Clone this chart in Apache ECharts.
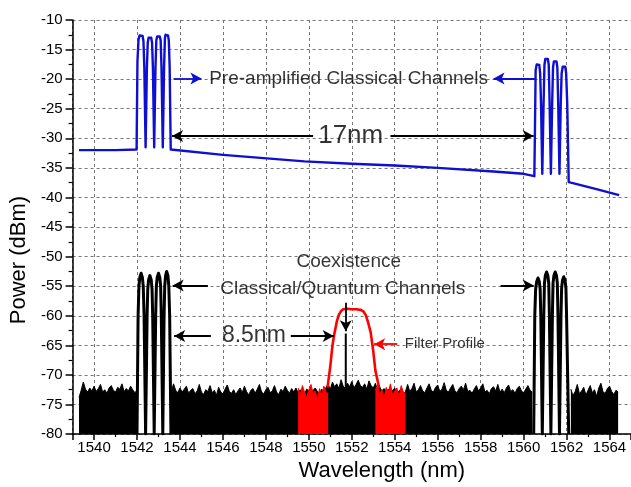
<!DOCTYPE html>
<html>
<head>
<meta charset="utf-8">
<script src="https://cdn.jsdelivr.net/npm/echarts@6/dist/echarts.min.js"></script>
<style>html,body{margin:0;padding:0;background:#fff;}#chart{width:631px;height:487px;}</style>
</head>
<body>
<div id="chart"></div>
<script>
// ---- Data (wavelength nm, power dBm) ----
const xTicks = [1540,1542,1544,1546,1548,1550,1552,1554,1556,1558,1560,1562,1564];
const yTicks = [-80,-75,-70,-65,-60,-55,-50,-45,-40,-35,-30,-25,-20,-15,-10];

// Pre-amplified classical channels (blue trace)
const blueTrace = [
  [1539.3,-32.0],[1541.0,-32.0],[1541.98,-31.9],
  [1542.02,-17.0],[1542.07,-13.3],[1542.12,-12.6],[1542.19,-12.4],[1542.26,-12.7],[1542.3,-13.6],[1542.34,-18],[1542.4,-31.5],
  [1542.46,-18],[1542.5,-13.8],[1542.54,-13.0],[1542.6,-12.8],[1542.66,-13.0],[1542.7,-13.8],[1542.74,-18],[1542.8,-31.5],
  [1542.86,-18],[1542.9,-13.4],[1542.94,-12.8],[1543.0,-12.6],[1543.06,-12.8],[1543.1,-13.4],[1543.14,-18],[1543.2,-31.5],
  [1543.26,-18],[1543.3,-13.0],[1543.33,-12.5],[1543.38,-12.3],[1543.44,-12.6],[1543.48,-13.4],[1543.52,-18],[1543.57,-31.9],
  [1543.66,-31.9],[1546.0,-32.8],[1549.8,-33.9],[1552.0,-34.3],[1554.0,-34.6],[1556.0,-35.0],[1558.6,-35.6],[1560.0,-36.0],[1560.5,-36.4],
  [1560.53,-28],[1560.56,-18.5],[1560.61,-17.5],[1560.67,-17.2],[1560.73,-17.6],[1560.77,-19],[1560.81,-24],[1560.87,-36.0],
  [1560.93,-24],[1560.97,-17.6],[1561.01,-16.6],[1561.07,-16.3],[1561.13,-16.6],[1561.17,-17.6],[1561.21,-24],[1561.27,-36.0],
  [1561.33,-24],[1561.37,-18.0],[1561.41,-17.0],[1561.47,-16.7],[1561.53,-17.0],[1561.57,-18.0],[1561.61,-24],[1561.67,-36.0],
  [1561.73,-24],[1561.77,-19.0],[1561.82,-17.9],[1561.88,-17.6],[1561.94,-17.9],[1561.98,-19.0],[1562.03,-24],[1562.1,-37.4],
  [1562.2,-37.5],[1563.3,-38.5],[1564.45,-39.6]
];

// Coexistence classical channels (black trace)
const blackChannelsLeft = [
  [1542.0,-80],[1542.05,-60],[1542.09,-55],[1542.13,-53.5],[1542.19,-52.8],[1542.25,-53.5],[1542.29,-55],[1542.33,-60],[1542.4,-80],
  [1542.47,-60],[1542.5,-55.5],[1542.54,-53.9],[1542.6,-53.2],[1542.66,-53.9],[1542.7,-55.5],[1542.73,-60],[1542.8,-80],
  [1542.87,-60],[1542.9,-55],[1542.94,-53.5],[1543.0,-52.8],[1543.06,-53.5],[1543.1,-55],[1543.13,-60],[1543.2,-80],
  [1543.26,-60],[1543.29,-55],[1543.33,-53.2],[1543.38,-52.5],[1543.44,-53.2],[1543.48,-55],[1543.52,-60],[1543.58,-80]
];
const blackChannelsRight = [
  [1560.47,-80],[1560.52,-60],[1560.56,-55.5],[1560.61,-54.2],[1560.67,-53.6],[1560.73,-54.2],[1560.77,-55.5],[1560.8,-60],[1560.87,-80],
  [1560.94,-60],[1560.97,-54.5],[1561.01,-53.2],[1561.07,-52.6],[1561.13,-53.2],[1561.17,-54.5],[1561.2,-60],[1561.27,-80],
  [1561.34,-60],[1561.37,-54.5],[1561.41,-53.2],[1561.47,-52.6],[1561.53,-53.2],[1561.57,-54.5],[1561.6,-60],[1561.67,-80],
  [1561.74,-60],[1561.77,-55.3],[1561.81,-54],[1561.87,-53.4],[1561.93,-54],[1561.97,-55.3],[1562.0,-60],[1562.1,-80]
];

// Quantum channel spike
const quantumSpike = [[1551.72,-80],[1551.72,-63.0]];

// Noise floor, sampled every 0.1 nm
const noiseStep = 0.1;
const noiseLeftStart = 1539.3;
const noiseLeft = [-73.8,-72.6,-71.2,-72.4,-72.9,-72.2,-72.7,-71.9,-72.8,-72.3,-71.6,-72.9,-72.5,-73.1,-72.2,-71.8,-72.6,-72.9,-72.1,-72.4,-71.5,-72.8,-72.3,-72.7,-71.9,-72.5,-73.0,-72.6];
const noiseMidStart = 1543.6;
const noiseMid = [
  -72.8,-71.5,-72.6,-73.0,-72.2,-72.9,-72.4,-71.9,-73.1,-72.6,
  -72.3,-73.2,-72.7,-71.6,-72.9,-73.3,-72.5,-72.8,-71.8,-73.0,
  -72.6,-73.4,-72.1,-72.9,-73.2,-72.4,-71.7,-72.8,-73.1,-72.5,
  -73.3,-72.7,-72.2,-73.0,-71.9,-72.8,-73.4,-72.6,-72.3,-73.1,
  -72.4,-71.6,-72.9,-73.2,-72.5,-72.1,-73.0,-72.7,-71.8,-72.9,
  -73.3,-72.4,-72.8,-71.9,-72.6,-73.1,-72.3,-72.9,-72.2,-73.0,
  -72.5,-72.9,-73.2,-72.4,-72.7,-73.0,-72.6,-72.2,-72.8,-73.1,
  -72.4,-72.9,-72.1,-71.6,-72.4,-71.2,-72.0,-71.5,-72.3,-70.8,
  -71.9,-72.3,-71.4,-72.0,-71.1,-72.2,-71.6,-70.9,-71.8,-72.1,
  -71.5,-72.4,-71.0,-71.8,-72.2,-71.4,-72.6,-72.0,-72.8,-72.3,
  -72.9,-72.4,-73.1,-72.6,-72.2,-73.0,-72.7,-72.4,-73.2,-72.8,
  -71.6,-72.8,-72.3,-71.4,-72.9,-72.5,-71.8,-72.7,-73.0,-72.2,
  -71.5,-72.6,-72.9,-72.1,-71.7,-72.8,-72.4,-71.3,-72.6,-72.9,
  -72.2,-71.6,-72.7,-73.0,-72.3,-71.9,-72.5,-71.4,-72.8,-72.6,
  -73.1,-72.4,-71.8,-72.7,-72.2,-71.5,-72.9,-72.6,-73.2,-72.3,
  -72.0,-72.7,-71.6,-72.9,-72.4,-73.0,-72.2,-71.7,-72.8,-72.5,
  -73.1,-72.3,-71.9,-72.7,-73.0,-72.4,-71.8,-72.6,-72.9
];
const noiseRightStart = 1562.2;
const noiseRight = [-72.4,-73.5,-72.8,-71.6,-73.2,-72.7,-72.1,-73.4,-72.6,-71.8,-73.0,-72.5,-73.6,-72.2,-71.4,-72.9,-73.1,-72.3,-71.9,-72.8,-73.3,-72.6,-72.9];

// Filter profile (red)
const filterProfile = [
  [1550.87,-72.1],[1551.0,-68.5],[1551.1,-65.0],[1551.18,-63.2],[1551.3,-61.0],[1551.4,-59.8],[1551.5,-59.2],[1551.6,-58.9],
  [1551.8,-58.8],[1552.0,-58.9],[1552.2,-58.9],[1552.42,-59.0],[1552.55,-59.3],[1552.65,-59.9],[1552.75,-61.0],[1552.88,-62.8],
  [1553.0,-66.0],[1553.1,-69.3],[1553.27,-72.1]
];
const filterNoiseLeftStart = 1549.5;
const filterNoiseLeft = [-72.2,-73.4,-71.8,-72.9,-73.8,-72.5,-71.6,-73.1,-72.7,-74.0,-72.3,-73.5,-71.9,-72.8,-73.2];
const filterNoiseRightStart = 1553.1;
const filterNoiseRight = [-72.6,-71.7,-73.3,-72.4,-73.9,-72.1,-72.9,-71.5,-73.4,-72.7,-72.2,-73.6,-71.8,-72.9,-73.1];

// Annotation texts: [label, wavelength, power]
const textBlue = ['Pre-amplified Classical Channels', 1551.85, -19.9];
const text17 = ['17nm', 1551.95, -29.6];
const textCoex1 = ['Coexistence', 1551.86, -50.9];
const textCoex2 = ['Classical/Quantum Channels', 1551.58, -55.4];
const text85 = ['8.5nm', 1547.44, -63.3];
const textFilter = ['Filter Profile', 1556.33, -64.8];

// Arrows: [x tail, y tail, x head, y head]
const blueArrows = [
  [1543.7, -19.9, 1545.0, -19.9],
  [1560.55, -19.9, 1558.6, -19.9]
];
const blackArrows = [
  [1550.2, -29.6, 1543.63, -29.6],
  [1553.8, -29.6, 1560.47, -29.6],
  [1545.3, -54.9, 1543.66, -54.9],
  [1558.93, -54.9, 1560.47, -54.9],
  [1545.44, -63.4, 1543.73, -63.4],
  [1549.16, -63.4, 1551.16, -63.4],
  [1551.72, -57.8, 1551.72, -62.6]
];
const redArrows = [
  [1554.12, -64.8, 1553.04, -64.8]
];

// ---- Build ----
function sampled(start, vals) {
  return vals.map((v, i) => [+(start + i * noiseStep).toFixed(2), v]);
}
function arrowData(list) {
  return list.map(a => [{coord: [a[0], a[1]]}, {coord: [a[2], a[3]]}]);
}
function textPoint(t, size) {
  return {name: t[0], value: [t[1], t[2]], label: {fontSize: size}};
}

const FONT = 'Liberation Sans, Arial, sans-serif';
const BLUE = '#0f0fd2';
const noiseSeries = (data, color) => ({
  type: 'line', data: data, showSymbol: false, symbol: 'none',
  lineStyle: {color: color, width: 1}, areaStyle: {color: color, opacity: 1, origin: 'start'},
  animation: false, z: 2
});
const traceSeries = (data, color, width, z) => ({
  type: 'line', data: data, showSymbol: false, symbol: 'none',
  lineStyle: {color: color, width: width, join: 'round'}, animation: false, z: z
});
const arrowSeries = (list, color) => ({
  type: 'line', data: [], z: 6, silent: true,
  markLine: {
    silent: true, animation: false, symbol: ['none', 'arrow'], symbolSize: [9, 11],
    label: {show: false},
    lineStyle: {color: color, width: 1.8, type: 'solid'},
    emphasis: {disabled: true},
    data: arrowData(list)
  }
});

const chart = echarts.init(document.getElementById('chart'), null, {renderer: 'canvas'});
chart.setOption({
  animation: false,
  grid: {left: 72, right: 0, top: 20, bottom: 49, containLabel: false},
  xAxis: {
    type: 'value', min: 1539, max: 1565, splitNumber: 13, minInterval: 2, maxInterval: 2,
    name: 'Wavelength (nm)', nameLocation: 'middle', nameGap: 22,
    nameTextStyle: {fontFamily: FONT, fontSize: 22, color: '#000', padding: [0, 0, 0, 60]},
    axisLine: {show: true, onZero: false, lineStyle: {color: '#000', width: 1.5}},
    axisTick: {show: true, inside: false, length: 6, lineStyle: {color: '#000', width: 1.5}},
    minorTick: {show: true, splitNumber: 2, length: 3, lineStyle: {color: '#000', width: 1.2}},
    axisLabel: {fontFamily: FONT, fontSize: 15, color: '#000', margin: 6, showMinLabel: false, showMaxLabel: false,
      formatter: v => String(v)},
    splitLine: {show: true, lineStyle: {color: '#777', width: 1, type: [3, 3]}}
  },
  yAxis: {
    type: 'value', min: -80, max: -10, interval: 5,
    name: 'Power (dBm)', nameLocation: 'middle', nameGap: 42,
    nameTextStyle: {fontFamily: FONT, fontSize: 22, color: '#000', padding: [0, 66, 0, 0]},
    axisLine: {show: true, onZero: false, lineStyle: {color: '#000', width: 1.5}},
    axisTick: {show: true, inside: false, length: 7, lineStyle: {color: '#000', width: 1.5}},
    minorTick: {show: true, splitNumber: 2, length: 4, lineStyle: {color: '#000', width: 1.2}},
    axisLabel: {fontFamily: FONT, fontSize: 15, color: '#000', margin: 10, formatter: v => String(v)},
    splitLine: {show: true, lineStyle: {color: '#777', width: 1, type: [3, 3]}}
  },
  series: [
    noiseSeries(sampled(noiseLeftStart, noiseLeft), '#000'),
    noiseSeries(sampled(noiseMidStart, noiseMid), '#000'),
    noiseSeries(sampled(noiseRightStart, noiseRight), '#000'),
    Object.assign(noiseSeries(sampled(filterNoiseLeftStart, filterNoiseLeft), '#ff0000'), {z: 3}),
    Object.assign(noiseSeries(sampled(filterNoiseRightStart, filterNoiseRight), '#ff0000'), {z: 3}),
    traceSeries(quantumSpike, '#000', 2, 4),
    traceSeries(filterProfile, '#ff0000', 2.6, 4),
    traceSeries(blackChannelsLeft, '#000', 3, 4),
    traceSeries(blackChannelsRight, '#000', 3, 4),
    traceSeries(blueTrace, BLUE, 2.4, 4),
    arrowSeries(blackArrows, '#000'),
    arrowSeries(blueArrows, BLUE),
    arrowSeries(redArrows, '#ff0000'),
    {
      type: 'scatter', symbolSize: 0, z: 7, silent: true,
      label: {show: true, position: 'inside', formatter: '{b}', color: '#000', fontFamily: FONT},
      data: [
        textPoint(textBlue, 19), textPoint(text17, 26), textPoint(textCoex1, 19),
        textPoint(textCoex2, 19), textPoint(text85, 23), textPoint(textFilter, 15)
      ]
    }
  ]
});
</script>
</body>
</html>
